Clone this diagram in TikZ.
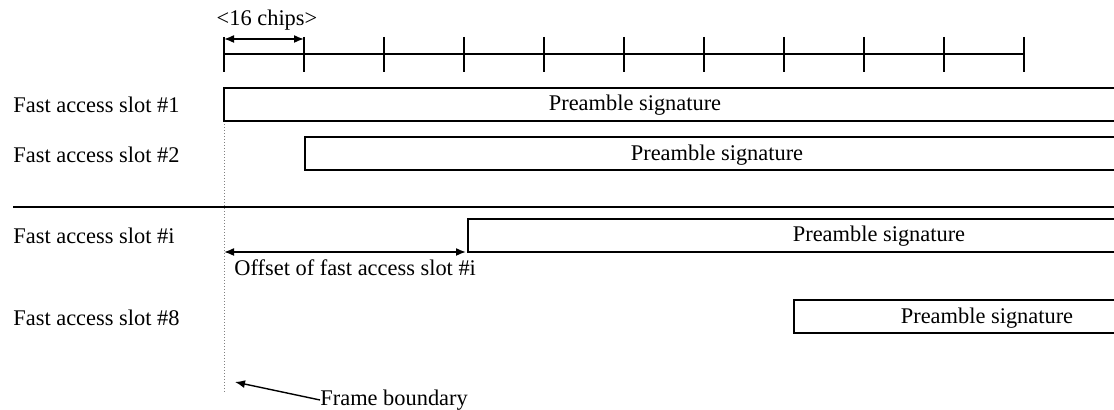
\documentclass[tikz,border=0pt]{standalone}
\usepackage{fontspec}
\setmainfont{Liberation Serif}
\usetikzlibrary{positioning, arrows.meta}
\tikzset{
>={Latex[length=5pt,width=4pt]}, % filled arrow heads
x=0.5pt, y=-0.5pt, % one unit is one pixel of the layout
every node/.style={font=\fontsize{11.2}{13}\selectfont, inner sep=0pt},
slot label/.style={anchor=west},
sig box/.style={draw, line width=0.7pt},
tick/.style={line width=1pt},
boundary/.style={gray, densely dotted, line width=0.5pt},
}
\begin{document}
\begin{tikzpicture}
\useasboundingbox (0,0) rectangle (1114,410);

% chip ruler
\draw[line width=0.7pt] (224,54) -- (1025,54);
\foreach \t in {0,...,10}
  \draw[tick] (224+80*\t,37) -- (224+80*\t,72);
\coordinate (c0) at (224,39);
\coordinate (c1) at (304,39);
\draw[<->, line width=0.8pt] (c0) -- (c1);
\node (chips) at (267,20) {<16 chips>};

% frame boundary
\draw[boundary] (224,88) -- (224,393);

% preamble boxes, open at the right
\foreach \l/\t/\b in {224/88/121, 305/137/170, 468/219/252, 794/300/333}
  \draw[sig box] (1114,\t) -- (\l,\t) -- (\l,\b) -- (1114,\b);

\node[slot label] (s1) at (13,105) {Fast access slot \#1};
\node[slot label] (s2) at (13,155) {Fast access slot \#2};
\node[slot label] (si) at (13,236) {Fast access slot \#i};
\node[slot label] (s8) at (13,318) {Fast access slot \#8};

\node (p1) at (635,105) {Preamble signature};
\node (p2) at (717,155) {Preamble signature};
\node (pi) at (879,236) {Preamble signature};
\node (p8) at (987,318) {Preamble signature};

% separator
\draw[line width=0.7pt] (13,207) -- (1114,207);

% offset of slot i
\coordinate (o0) at (224,252);
\coordinate (o1) at (466,252);
\draw[<->, line width=0.8pt] (o0) -- (o1);
\node[anchor=north west] (offset) at (234,259) {Offset of fast access slot \#i};

% frame boundary label
\node[anchor=west] (fb) at (320,400) {Frame boundary};
\coordinate (fbtip) at (235,382);
\draw[->, line width=0.7pt] (fb.west) -- (fbtip);
\end{tikzpicture}
\end{document}
